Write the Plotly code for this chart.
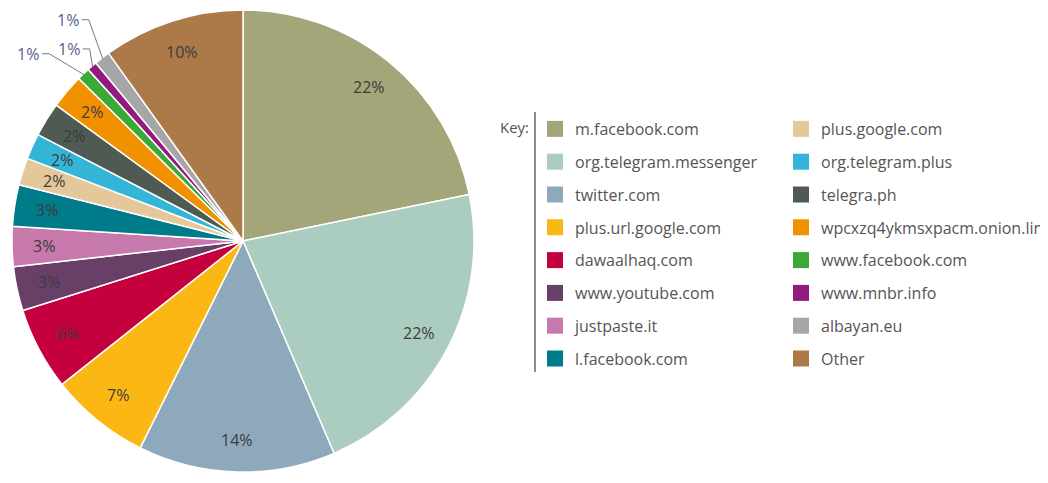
import math
import plotly.graph_objects as go

# ---- data ----
labels = ["m.facebook.com", "org.telegram.messenger", "twitter.com", "plus.url.google.com",
          "dawaalhaq.com", "www.youtube.com", "justpaste.it", "l.facebook.com",
          "plus.google.com", "org.telegram.plus", "telegra.ph", "wpcxzq4ykmsxpacm.onion.link",
          "www.facebook.com", "www.mnbr.info", "albayan.eu", "Other"]
values = [21.8, 21.8, 13.8, 7.0, 5.8, 3.1, 2.8, 2.9, 1.9, 1.8, 2.4, 2.4, 0.9, 0.7, 1.1, 9.9]
colors = ["#a5a57a", "#abcdbf", "#8fa9bc", "#fbb714", "#c5003e", "#673f67", "#c679aa", "#007b8a",
          "#e5c89a", "#33b5d8", "#4f5a52", "#f29100", "#3aa935", "#951a80", "#a6a6a6", "#ab7a48"]

# ---- layout geometry (window pixels) ----
W, H = 1048, 483
OFF = 8  # page body margin offset
CX, CY, R = 243, 241, 231
TXT = "#3c3c3c"
FONT = "Open Sans"

def px(x):
    return (x - OFF) / W

def py(y):
    return 1 - (y - OFF) / H

fig = go.Figure()
fig.add_trace(go.Pie(
    labels=labels, values=values, sort=False, direction="clockwise", rotation=0,
    marker=dict(colors=colors, line=dict(color="white", width=1.5)),
    textinfo="none", hoverinfo="label+percent", showlegend=False,
    domain=dict(x=[px(CX - R), px(CX + R)], y=[py(CY + R), py(CY - R)]),
))

total = sum(values)
annotations = []
shapes = []
cum = 0.0
small_offsets = [(-35, -21), (-3, -18), (-14, -39)]
si = 0
for lab, v in zip(labels, values):
    mid = math.radians(90 - 360 * (cum + v / 2) / total)
    cum += v
    pct = f"{round(100 * v / total):d}%"
    if v / total < 0.015:
        ex, ey = CX + (R - 1) * math.cos(mid), CY - (R - 1) * math.sin(mid)
        dx, dy = small_offsets[si]
        si += 1
        kx, ky = ex + dx, ey + dy
        shapes.append(dict(type="path", xref="paper", yref="paper",
                           path=f"M {px(kx-7)},{py(ky)} L {px(kx)},{py(ky)} L {px(ex)},{py(ey)}",
                           line=dict(color="#7a7a7a", width=1)))
        annotations.append(dict(x=px(kx - 8), y=py(ky), xref="paper", yref="paper", text=pct,
                                showarrow=False, xanchor="right", yanchor="middle",
                                font=dict(family=FONT, size=16, color="#56618f")))
    else:
        f = 0.86
        lx, ly = CX + f * R * math.cos(mid), CY - f * R * math.sin(mid)
        annotations.append(dict(x=px(lx), y=py(ly), xref="paper", yref="paper", text=pct,
                                showarrow=False, xanchor="center", yanchor="middle",
                                font=dict(family=FONT, size=16, color=TXT)))

# legend proxies (two columns)
for i, (lab, c) in enumerate(zip(labels, colors)):
    fig.add_trace(go.Scatter(x=[None], y=[None], mode="markers", name=lab,
                             marker=dict(symbol="square", size=17, color=c),
                             legend="legend" if i < 8 else "legend2",
                             legendgroup=f"g{i}", hoverinfo="skip"))

annotations.append(dict(x=px(531), y=py(127), xref="paper", yref="paper", text="Key:",
                        showarrow=False, xanchor="right", yanchor="middle",
                        font=dict(family=FONT, size=15, color="#555555")))
shapes.append(dict(type="line", xref="paper", yref="paper", x0=px(535), x1=px(535),
                   y0=py(112), y1=py(372), line=dict(color="#666666", width=1.5)))

leg_common = dict(yanchor="top", xanchor="left", traceorder="grouped", tracegroupgap=9,
                  font=dict(family=FONT, size=16, color="#555555"), bgcolor="rgba(0,0,0,0)",
                  itemclick=False, itemdoubleclick=False)
fig.update_layout(
    width=W, height=H,
    margin=dict(l=0, r=0, t=0, b=0, autoexpand=False),
    paper_bgcolor="white", plot_bgcolor="white",
    xaxis=dict(visible=False), yaxis=dict(visible=False),
    annotations=annotations, shapes=shapes,
    legend=dict(x=px(535), y=py(112), **leg_common),
    legend2=dict(x=px(781), y=py(112), **leg_common),
    showlegend=True,
)

fig.write_html("out.html")
